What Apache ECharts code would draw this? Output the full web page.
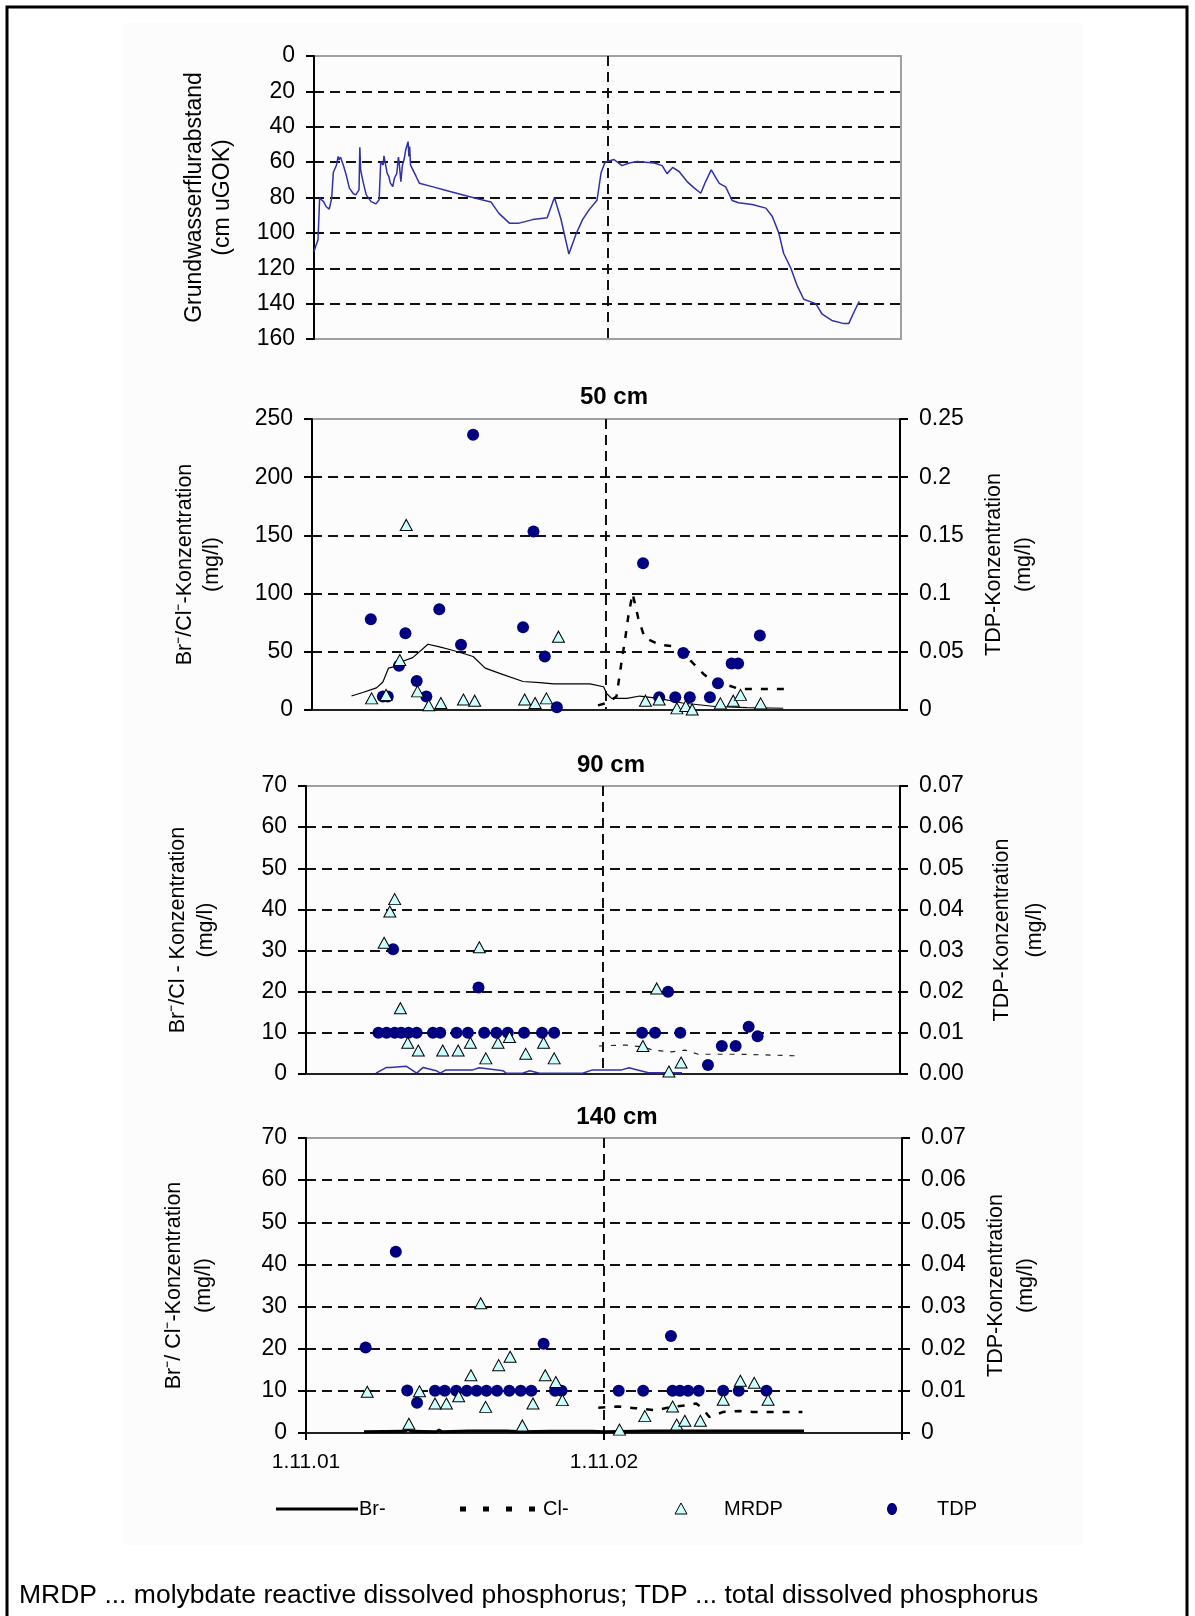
<!DOCTYPE html>
<html>
<head>
<meta charset="utf-8">
<script src="https://cdn.jsdelivr.net/npm/echarts@6.0.0/dist/echarts.min.js"></script>
<style>
  html, body { margin:0; padding:0; background:#fff; }
  #chart { width:1195px; height:1616px; }
</style>
</head>
<body>
<div id="chart"></div>
<script>
// x = Tage seit 1.11.01
const xTicks = { 0: '1.11.01', 365: '1.11.02' }

// Grundwasserflurabstand (cm uGOK)
const gw = [
  [0,110.5],[2,107.7],[5,103.9],[7,80.4],[9,80.4],[12,82.3],[15,85.1],[19,86.6],[22,80.4],[24,65.9],
  [26,64.8],[28,61.6],[30,56.8],[31,58.7],[33,57.2],[35,57.8],[37,62.5],[40,67.2],[44,74.7],[49,77.9],
  [52,78.5],[56,75.7],[57,51.6],[58,64.4],[61,71],[65,78.5],[71,82.3],[77,83.6],[81,81.3],[83,59.7],
  [86,61.6],[87,56.5],[89,56.8],[91,66.3],[93,68.1],[95,71.9],[98,73.8],[100,69.1],[103,66.3],[105,57.2],
  [106,60.6],[108,71],[110,61.6],[112,58.7],[114,53.1],[117,48.4],[118,56.8],[119,51.2],[120,61.6],[123,64.4],
  [127,68.1],[131,71.9],[148,74],[168,76.5],[189,79],[206,81],[220,82.5],[230,89],[243,94.5],[255,94.5],
  [272,92.5],[290,91.5],[299,80],[307,92],[317,112],[326,100.5],[334,92.5],[342,87],[352,81.5],[357,66],
  [362,60],[373,58.5],[383,62],[392,60.5],[402,59.7],[423,60.5],[433,62],[439,66.5],[446,63],[454,65.3],
  [464,71],[473,74.7],[481,77.6],[487,71],[494,64.4],[504,72],[512,74],[520,81.7],[528,83],[545,84],
  [562,86],[570,90.7],[578,100],[584,111.5],[593,120],[601,130],[609,137.5],[624,140],[632,146],[644,149.5],
  [659,151.3],[665,151.3],[671,145.3],[678,138.7]
]

// 50 cm: Br-, Cl- (mg/l, linke Achse); MRDP, TDP (mg/l, rechte Achse)
const br50 = [
  [49,12],[63,15],[80,19],[88,24],[95,36],[101,37],[111,41.5],[125,45],[144,56.5],[157,54.5],
  [171,52],[186,49],[200,46],[215,36],[233,31.5],[262,24.5],[283,23.5],[300,22.5],[345,22.5],[362,20],
  [366,14],[372,10],[391,10],[407,12],[430,10],[460,6],[500,3],[540,2],[585,1.5]
]
const cl50 = [
  [355,4],[366,6],[378,11.5],[384,40],[389,62],[393,82],[398,100],[405,79],[413,62],[432,56],
  [453,54.5],[465,46],[486,31],[498,24.5],[515,21.5],[531,18],[548,18],[590,18]
]
const mrdp50 = [
  [74,0.010],[92,0.013],[109,0.043],[117,0.159],[131,0.016],[145,0.004],[160,0.006],[188,0.009],[202,0.008],
  [264,0.009],[277,0.006],[291,0.010],[306,0.063],[414,0.008],[431,0.009],[453,0.0014],[464,0.0034],
  [472,0.0005],[507,0.0057],[523,0.008],[532,0.013],[557,0.0057]
]
const tdp50 = [
  [73,0.078],[88,0.0115],[94,0.0115],[108,0.038],[116,0.066],[130,0.025],[142,0.0115],[158,0.0866],
  [185,0.056],[200,0.2365],[262,0.071],[275,0.1534],[289,0.046],[304,0.0023],[411,0.126],[431,0.011],
  [451,0.011],[461,0.049],[469,0.011],[494,0.011],[504,0.023],[521,0.040],[529,0.040],[556,0.064]
]

// 90 cm
const br90 = [
  [86,0.2],[99,1.6],[104,1.6],[123,1.9],[136,0.2],[144,1.6],[160,0.8],[165,0.2],[172,1],[205,1],
  [213,1.5],[242,0.8],[246,0.2],[266,0.2],[275,0.8],[287,0.2],[340,0.2],[352,1],[388,1],[397,1.5],
  [405,1.1],[421,0.3],[462,0.3]
]
const cl90 = [
  [360,6.8],[384,7],[394,7],[413,6.6],[427,5.8],[449,5.4],[466,5.8],[482,4.8],[531,4.8],[572,4.6],[606,4.4]
]
const mrdp90 = [
  [96,0.0319],[103,0.0395],[109,0.0425],[116,0.016],[125,0.0076],[138,0.0057],[168,0.0057],[187,0.0057],
  [202,0.0076],[213,0.0308],[221,0.0038],[236,0.0076],[250,0.009],[270,0.0049],[292,0.0076],[305,0.0038],
  [414,0.0068],[431,0.0208],[446,0.0006],[461,0.0028]
]
const tdp90 = [
  [89,0.01],[99,0.01],[107,0.0303],[109,0.01],[117,0.01],[126,0.01],[136,0.01],[156,0.01],[165,0.01],
  [185,0.01],[199,0.01],[212,0.021],[219,0.01],[234,0.01],[248,0.01],[268,0.01],[290,0.01],[305,0.01],
  [413,0.01],[429,0.01],[445,0.02],[460,0.01],[494,0.0022],[511,0.0068],[528,0.0068],[544,0.0115],[555,0.0092]
]

// 140 cm
const br140 = [
  [71,0.3],[120,0.4],[125,0.8],[130,0.4],[160,0.3],[163,0.7],[166,0.3],[200,0.5],[245,0.5],[265,0.3],
  [300,0.4],[350,0.4],[365,0.3],[420,0.5],[500,0.5],[610,0.5]
]
const cl140 = [
  [358,6],[382,6.3],[403,5.9],[429,5.4],[447,6.2],[466,6.6],[478,7],[486,5.8],[494,3.8],[511,5],
  [531,5.2],[547,5],[584,5],[608,5]
]
const mrdp140 = [
  [75,0.0098],[126,0.0022],[139,0.0099],[158,0.007],[172,0.007],[187,0.0087],[202,0.0137],[214,0.0308],
  [220,0.0062],[236,0.0161],[250,0.0181],[265,0.0018],[278,0.007],[293,0.0137],[306,0.0121],[314,0.0078],
  [384,0.0008],[415,0.004],[449,0.0063],[454,0.002],[464,0.0029],[483,0.0029],[511,0.0079],[532,0.0124],
  [549,0.0119],[566,0.0079]
]
const tdp140 = [
  [73,0.0203],[110,0.043],[124,0.0101],[136,0.0072],[158,0.01],[170,0.01],[184,0.01],[197,0.01],[209,0.01],
  [221,0.01],[234,0.01],[249,0.01],[263,0.01],[276,0.01],[291,0.0212],[305,0.01],[313,0.01],[383,0.01],
  [413,0.01],[447,0.023],[449,0.01],[458,0.01],[468,0.01],[481,0.01],[511,0.01],[530,0.01],[564,0.01]
]

const FONT = 'Liberation Sans'
const dash = [10, 6]

function xAx(grid, showLabels) {
  return {
    type:'value', gridIndex:grid, min:0, max:730, interval:365,
    axisLine:{ show:grid > 0, lineStyle:{ color:'#222', width:2 } },
    axisTick:{ show:showLabels, length:7, lineStyle:{ color:'#000', width:2 } },
    axisLabel:{ show:showLabels, margin:19, color:'#000', fontSize:21, fontFamily:FONT,
      formatter:v => xTicks[v] || '' },
    splitLine:{ show:true, showMinLine:false, showMaxLine:false,
      lineStyle:{ color:'#111', width:2, type:dash } }
  }
}

function yAx(grid, pos, min, max, interval, name, gap, lh, fmt, gridLines, nameSize) {
  return {
    type:'value', gridIndex:grid, position:pos, min, max, interval,
    inverse: grid === 0,
    name, nameLocation:'middle', nameRotate:90, nameGap:gap,
    nameTextStyle:{ fontSize:nameSize || 21.5, fontFamily:FONT, color:'#000', lineHeight:lh, align:'center' },
    axisLine:{ show:true, lineStyle:{ color:'#000', width:2 } },
    axisTick:{ show:true, length:8, lineStyle:{ color:'#000', width:2 } },
    axisLabel:{ margin:19, color:'#000', fontSize:23, fontFamily:FONT, formatter:fmt },
    splitLine:{ show:gridLines, showMinLine:false, showMaxLine:false,
      lineStyle:{ color:'#111', width:2, type:dash } }
  }
}

const tri = { symbol:'triangle', symbolSize:[12,11],
  itemStyle:{ color:'#ccffff', borderColor:'#000', borderWidth:1, opacity:1 } }
const dot = { symbol:'circle', symbolSize:12, itemStyle:{ color:'#000080', opacity:1 } }

function line(name, data, x, y, style) {
  return { name, type:'line', xAxisIndex:x, yAxisIndex:y, data, symbol:'none',
    lineStyle:style, animation:false, z:2 }
}
function pts(name, data, x, y, look) {
  return Object.assign({ name, type:'scatter', xAxisIndex:x, yAxisIndex:y, data,
    animation:false, z:3 }, look)
}

const titleStyle = { fontSize:24, fontWeight:'bold', fontFamily:FONT, color:'#000' }

const chart = echarts.init(document.getElementById('chart'), null, { renderer:'canvas' })

chart.setOption({
  animation:false,
  title:[
    { text:'50 cm', left:609, top:380, textAlign:'center', textStyle:titleStyle },
    { text:'90 cm', left:606, top:748, textAlign:'center', textStyle:titleStyle },
    { text:'140 cm', left:612, top:1100, textAlign:'center', textStyle:titleStyle }
  ],
  grid:[
    { left:314, top:56, width:587, height:283, show:true, borderColor:'#a0a0a0', borderWidth:2, outerBoundsMode:'none' },
    { left:312, top:419, width:588, height:291, show:true, borderColor:'#a0a0a0', borderWidth:2, outerBoundsMode:'none' },
    { left:306, top:786, width:594, height:288, show:true, borderColor:'#a0a0a0', borderWidth:2, outerBoundsMode:'none' },
    { left:306, top:1138, width:596, height:295, show:true, borderColor:'#a0a0a0', borderWidth:2, outerBoundsMode:'none' }
  ],
  xAxis:[ xAx(0,false), xAx(1,false), xAx(2,false), xAx(3,true) ],
  yAxis:[
    yAx(0,'left',0,160,20,'Grundwasserflurabstand\n(cm uGOK)',77,28,null,true,23),
    yAx(1,'left',0,250,50,'Br⁻/Cl⁻-Konzentration\n(mg/l)',86,27,null,true),
    yAx(1,'right',0,0.25,0.05,'TDP-Konzentration\n(mg/l)',79,30,null,false),
    yAx(2,'left',0,70,10,'Br⁻/Cl - Konzentration\n(mg/l)',86,28,null,true),
    yAx(2,'right',0,0.07,0.01,'TDP-Konzentration\n(mg/l)',86,33,v => v.toFixed(2),false),
    yAx(3,'left',0,70,10,'Br⁻/ Cl⁻-Konzentration\n(mg/l)',87,30,null,true),
    yAx(3,'right',0,0.07,0.01,'TDP-Konzentration\n(mg/l)',79,30,v => v === 0 ? '0' : v.toFixed(2),false)
  ],
  series:[
    line('Grundwasser', gw, 0, 0, { color:'#3030a8', width:1.5 }),

    line('Br-', br50, 1, 1, { color:'#000', width:1.2 }),
    line('Cl-', cl50, 1, 1, { color:'#000', width:2.5, type:[7,9] }),
    pts('TDP', tdp50, 1, 2, dot),
    pts('MRDP', mrdp50, 1, 2, tri),

    line('Br-', br90, 2, 3, { color:'#3030a8', width:1.5 }),
    line('Cl-', cl90, 2, 3, { color:'#222', width:1.2, type:[5,7] }),
    pts('TDP', tdp90, 2, 4, dot),
    pts('MRDP', mrdp90, 2, 4, tri),

    line('Br-', br140, 3, 5, { color:'#000', width:3 }),
    line('Cl-', cl140, 3, 5, { color:'#000', width:2.5, type:[7,9] }),
    pts('TDP', tdp140, 3, 6, dot),
    pts('MRDP', mrdp140, 3, 6, tri)
  ],
  graphic:[
    { type:'rect', z:-10, shape:{ x:123, y:23, width:960, height:1522 }, style:{ fill:'#fbfcfb' } },
    { type:'rect', z:10, shape:{ x:7, y:7, width:1180, height:1640 }, style:{ fill:'none', stroke:'#000', lineWidth:3 } },
    // Legende
    { type:'line', shape:{ x1:276, y1:1509, x2:358, y2:1509 }, style:{ stroke:'#000', lineWidth:3 } },
    { type:'text', x:359, y:1509, style:{ text:'Br-', fontSize:20, fontFamily:FONT, fill:'#000', verticalAlign:'middle' } },
    { type:'line', shape:{ x1:460, y1:1509, x2:541, y2:1509 }, style:{ stroke:'#000', lineWidth:5, lineDash:[6,17] } },
    { type:'text', x:543, y:1509, style:{ text:'Cl-', fontSize:20, fontFamily:FONT, fill:'#000', verticalAlign:'middle' } },
    { type:'polygon', shape:{ points:[[681,1503],[687,1514],[675,1514]] }, style:{ fill:'#ccffff', stroke:'#000', lineWidth:1 } },
    { type:'text', x:724, y:1509, style:{ text:'MRDP', fontSize:20, fontFamily:FONT, fill:'#000', verticalAlign:'middle' } },
    { type:'ellipse', shape:{ cx:892, cy:1509, rx:5, ry:6 }, style:{ fill:'#000080' } },
    { type:'text', x:937, y:1509, style:{ text:'TDP', fontSize:20, fontFamily:FONT, fill:'#000', verticalAlign:'middle' } },
    // Fussnote
    { type:'text', x:19, y:1596, style:{ text:'MRDP ... molybdate reactive dissolved phosphorus; TDP ... total dissolved phosphorus',
      fontSize:26.5, fontFamily:FONT, fill:'#000', verticalAlign:'middle' } }
  ]
})
</script>
</body>
</html>
